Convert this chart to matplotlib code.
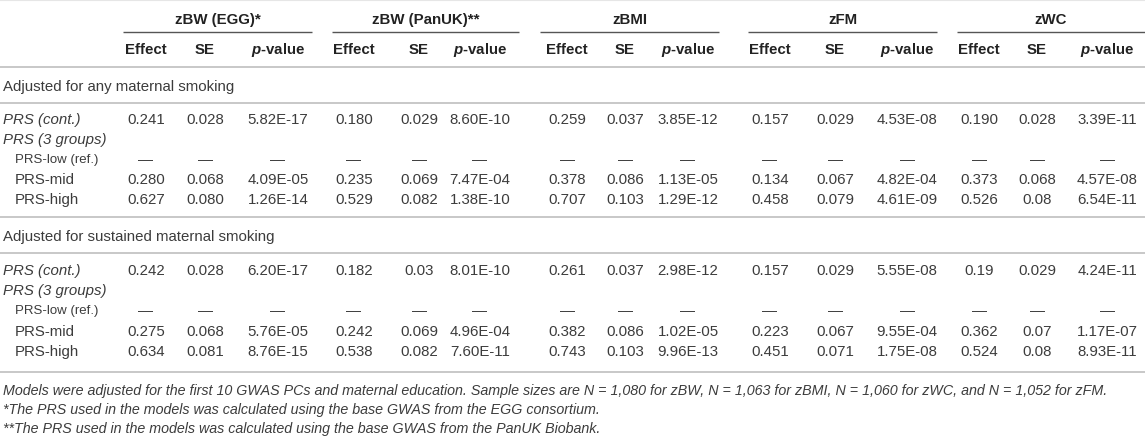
import matplotlib
matplotlib.use("Agg")
import matplotlib.pyplot as plt

plt.rcParams['font.family'] = ['Liberation Sans', 'DejaVu Sans']
plt.rcParams['mathtext.fontset'] = 'custom'
plt.rcParams['mathtext.it'] = 'Liberation Sans:italic:bold'
plt.rcParams['mathtext.rm'] = 'Liberation Sans:bold'

# ---------------- data ----------------
groups = ['zBW (EGG)*', 'zBW (PanUK)**', 'zBMI', 'zFM', 'zWC']
sub_headers = ['Effect', 'SE', r'$p$-value']

section_titles = ['Adjusted for any maternal smoking',
                  'Adjusted for sustained maternal smoking']
row_labels = ['PRS (cont.)', 'PRS (3 groups)', 'PRS-low (ref.)', 'PRS-mid', 'PRS-high']

dash = '\u2014'
any_cont = ['0.241', '0.028', '5.82E-17', '0.180', '0.029', '8.60E-10', '0.259', '0.037', '3.85E-12',
            '0.157', '0.029', '4.53E-08', '0.190', '0.028', '3.39E-11']
any_low = [dash] * 15
any_mid = ['0.280', '0.068', '4.09E-05', '0.235', '0.069', '7.47E-04', '0.378', '0.086', '1.13E-05',
           '0.134', '0.067', '4.82E-04', '0.373', '0.068', '4.57E-08']
any_high = ['0.627', '0.080', '1.26E-14', '0.529', '0.082', '1.38E-10', '0.707', '0.103', '1.29E-12',
            '0.458', '0.079', '4.61E-09', '0.526', '0.08', '6.54E-11']

sus_cont = ['0.242', '0.028', '6.20E-17', '0.182', '0.03', '8.01E-10', '0.261', '0.037', '2.98E-12',
            '0.157', '0.029', '5.55E-08', '0.19', '0.029', '4.24E-11']
sus_low = [dash] * 15
sus_mid = ['0.275', '0.068', '5.76E-05', '0.242', '0.069', '4.96E-04', '0.382', '0.086', '1.02E-05',
           '0.223', '0.067', '9.55E-04', '0.362', '0.07', '1.17E-07']
sus_high = ['0.634', '0.081', '8.76E-15', '0.538', '0.082', '7.60E-11', '0.743', '0.103', '9.96E-13',
            '0.451', '0.071', '1.75E-08', '0.524', '0.08', '8.93E-11']

notes = ['Models were adjusted for the first 10 GWAS PCs and maternal education. Sample sizes are N = 1,080 for zBW, '
         'N = 1,063 for zBMI, N = 1,060 for zWC, and N = 1,052 for zFM.',
         '*The PRS used in the models was calculated using the base GWAS from the EGG consortium.',
         '**The PRS used in the models was calculated using the base GWAS from the PanUK Biobank.']

# ---------------- layout ----------------
W, H = 1145, 439
fig = plt.figure(figsize=(W / 100, H / 100), dpi=100)
ax = fig.add_axes([0, 0, 1, 1])
ax.set_xlim(0, W)
ax.set_ylim(H, 0)
ax.axis('off')

col_x = [146, 205, 278, 354, 419, 480, 567, 625, 688, 770, 835, 907, 979, 1037, 1107]
group_spans = [(123, 312), (332, 519), (540, 719), (748, 937), (957, 1145)]

FS = 10.8
dark = '#222222'
txt = '#3c3c3c'
rule = '#c4c4c4'

# header
for g, (x0, x1) in zip(groups, group_spans):
    ax.text((x0 + x1) / 2, 20, g, ha='center', va='center', fontsize=FS, fontweight='bold', color=dark)
    ax.plot([x0, x1], [33, 33], color='#555555', lw=1.0, solid_capstyle='butt')
for i, x in enumerate(col_x):
    ax.text(x, 50, sub_headers[i % 3], ha='center', va='center', fontsize=FS, fontweight='bold', color=dark)

for y in [68, 104, 218, 254, 373]:
    ax.plot([0, W], [y, y], color=rule, lw=1.3, solid_capstyle='butt')
ax.plot([0, W], [0.5, 0.5], color='#e6e6e6', lw=0.8)

sections = [
    (87, [120, 140, 160, 180, 200], [any_cont, None, any_low, any_mid, any_high]),
    (237, [271, 291, 311, 332, 352], [sus_cont, None, sus_low, sus_mid, sus_high]),
]
for title, (ty, ys, rows) in zip(section_titles, sections):
    ax.text(3, ty, title, ha='left', va='center', fontsize=FS, color=txt)
    for lab, y, vals in zip(row_labels, ys, rows):
        if lab.startswith('PRS ('):
            ax.text(3, y, lab, ha='left', va='center', fontsize=FS, color=txt, style='italic')
        elif lab.startswith('PRS-low'):
            ax.text(15, y, lab, ha='left', va='center', fontsize=FS - 1.3, color=txt)
        else:
            ax.text(15, y, lab, ha='left', va='center', fontsize=FS, color=txt)
        if vals is not None:
            for x, v in zip(col_x, vals):
                ax.text(x, y, v, ha='center', va='center', fontsize=FS, color=txt)

for y, n in zip([391, 410, 429], notes):
    ax.text(3, y, n, ha='left', va='center', fontsize=10.3, color=txt, style='italic')

fig.savefig('out.png', dpi=100, facecolor='white')
